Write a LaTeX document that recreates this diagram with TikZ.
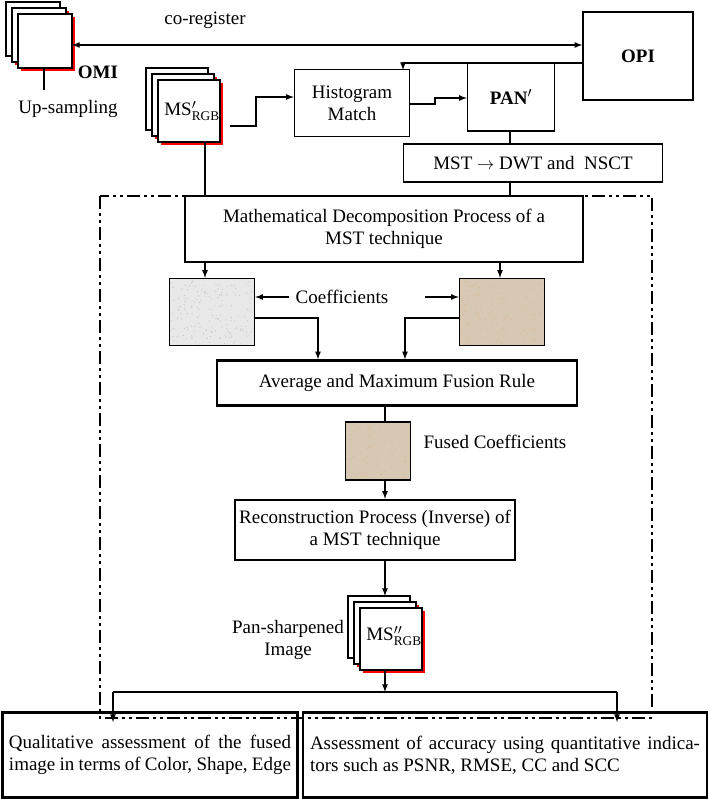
\documentclass[tikz,border=0pt]{standalone}
\usepackage{fontspec}
\setmainfont{Liberation Serif}
\usetikzlibrary{arrows,calc}
\usetikzlibrary{positioning}
\definecolor{beige}{RGB}{214,200,178}
\definecolor{pale}{RGB}{232,232,232}
\tikzset{
  box/.style={draw, line width=1.4pt, inner sep=2pt, align=center, font=\fontsize{19}{22}\selectfont},
  tbox/.style={box, line width=2.4pt},
  lab/.style={inner sep=1pt, align=center, font=\fontsize{19}{22}\selectfont},
  arr/.style={-latex, line width=1.6pt},
  ln/.style={line width=1.6pt},
}
\newcommand{\imgstack}[3]{% front top-left x, y, size
  \fill[red] (#1+3,#2+3) rectangle (#1+#3+3,#2+#3+3);
  \draw[fill=white, line width=1.4pt] (#1-12,#2-12) rectangle (#1+#3-12,#2+#3-12);
  \fill[red] (#1-3,#2-3) rectangle (#1+#3-3,#2+#3-3);
  \draw[fill=white, line width=1.4pt] (#1-6,#2-6) rectangle (#1+#3-6,#2+#3-6);
  \draw[fill=white, line width=1.4pt] (#1,#2) rectangle (#1+#3,#2+#3);
}
\begin{document}
\begin{tikzpicture}[x=1pt, y=-1pt]
    \useasboundingbox (0,0) rectangle (709,799);

    % outer dash-dot frame
    \draw[line width=2pt, dash pattern=on 13pt off 4pt on 3pt off 4pt on 3pt off 4pt] (100,196) rectangle (652,718);

    % OMI stack
    \imgstack{18}{14}{54}
    \node[lab, font=\fontsize{19}{22}\selectfont\bfseries] (omi) at (98,72) {OMI};
    \coordinate (omiA) at (72,45);
    \draw[ln] (44,68) -- (44,90);
    \node[lab] (up) at (68,109) {Up-sampling};

    % OPI
    \node[box, minimum width=110pt, minimum height=88pt] (opi) at (638,56) {\textbf{OPI}};
    \draw[latex-latex, line width=1.6pt] (omiA) -- (opi.west |- omiA);
    \node[lab] (coreg) at (205,20) {co-register};

    % MS' stack
    \imgstack{158}{80}{62}
    \node[lab] (ms) at (192,111) {MS$'_{\mathrm{RGB}}$};

    % histogram and PAN'
    \node[box, minimum width=115pt, minimum height=67pt] (hist) at (352,103) {Histogram\\Match};
    \node[box, minimum width=87pt, minimum height=68pt] (pan) at (511,97) {\textbf{PAN$'$}};
    \draw[arr] (opi.west |- 0,63) -- (403,63) -- (403,70);
    \draw[arr] (230,126) -- (256,126) -- (256,97) -- (hist.west |- 0,97);
    \draw[arr] (hist.east |- 0,104) -- (435,104) -- (435,98) -- (pan.west |- 0,98);

    \node[box, minimum width=259pt, minimum height=38pt] (mst) at (533,163) {MST $\rightarrow$ DWT and~ NSCT};
    \node[box, minimum width=398pt, minimum height=66pt] (dec) at (384,229) {Mathematical Decomposition Process of a\\MST technique};
    \draw[ln] (pan.south -| 510,0) -- (mst.north -| 510,0);
    \draw[ln] (mst.south -| 510,0) -- (dec.north -| 510,0);
    \draw[ln] (205,142) -- (dec.north -| 205,0);

    % coefficient images
    \node[draw, line width=1.4pt, fill=pale, minimum width=85pt, minimum height=67pt, inner sep=0] (cl) at (212,312) {};
    \node[draw, line width=1.4pt, fill=beige, minimum width=85pt, minimum height=67pt, inner sep=0] (cr) at (502,312) {};
    \foreach \i in {1,...,160}{
      \fill[gray!45] ($(cl.south west)+(rnd*81+2,-rnd*63-2)$) circle (0.6pt);
      \fill[brown!55] ($(cr.south west)+(rnd*81+2,-rnd*63-2)$) circle (0.6pt);
    }
    \draw[arr] (dec.south -| 205,0) -- (cl.north -| 205,0);
    \draw[arr] (dec.south -| 500,0) -- (cr.north -| 500,0);
    \node[lab] (coef) at (342,297) {Coefficients};
    \draw[arr] ([xshift=-6pt]coef.west) -- (cl.east |- coef.west);
    \draw[arr] (425,297) -- (cr.west |- 0,297);

    \node[tbox, minimum width=360pt, minimum height=45pt] (rule) at (397,383) {Average and Maximum Fusion Rule};
    \draw[arr] (cl.east |- 0,318) -- (318,318) -- (rule.north -| 318,0);
    \draw[arr] (cr.west |- 0,318) -- (405,318) -- (rule.north -| 405,0);

    % fused
    \node[draw, line width=1.4pt, fill=beige, minimum width=65pt, minimum height=58pt, inner sep=0] (fu) at (378,451) {};
    \foreach \i in {1,...,90}{
      \fill[brown!55] ($(fu.south west)+(rnd*61+2,-rnd*54-2)$) circle (0.6pt);
    }
    \draw[ln] (rule.south -| 385,0) -- (fu.north -| 385,0);
    \node[lab] (fcoef) at (495,442) {Fused Coefficients};

    \node[tbox, minimum width=280pt, minimum height=60pt] (rec) at (375,530) {Reconstruction Process (Inverse) of\\a MST technique};
    \draw[arr] (fu.south -| 385,0) -- (rec.north -| 385,0);

    % MS'' stack
    \imgstack{360}{608}{62}
    \node[lab] (ms2) at (394,636) {MS$''_{\mathrm{RGB}}$};
    \coordinate (ms2top) at (385,596);
    \draw[arr] (rec.south -| 385,0) -- (ms2top);
    \node[lab] (pans) at (288,640) {Pan-sharpened\\Image};

    % assessments
    \node[tbox, minimum width=295pt, minimum height=85pt, text width=282pt, align=justify] (qual) at (150,755)
      {Qualitative assessment of the fused image in terms of Color, Shape, Edge\par\vspace{2pt}};
    \node[tbox, minimum width=404pt, minimum height=85pt, text width=390pt, align=justify] (quan) at (505,755)
      {Assessment of accuracy using quantitative indicators such as PSNR, RMSE, CC and SCC\par\vspace{20pt}};
    \draw[arr] (385,670) -- (385,692);
    \draw[ln] (113,692) -- (617,692);
    \draw[arr] (113,692) -- (113,722);
    \draw[arr] (617,692) -- (617,722);
\end{tikzpicture}
\end{document}
